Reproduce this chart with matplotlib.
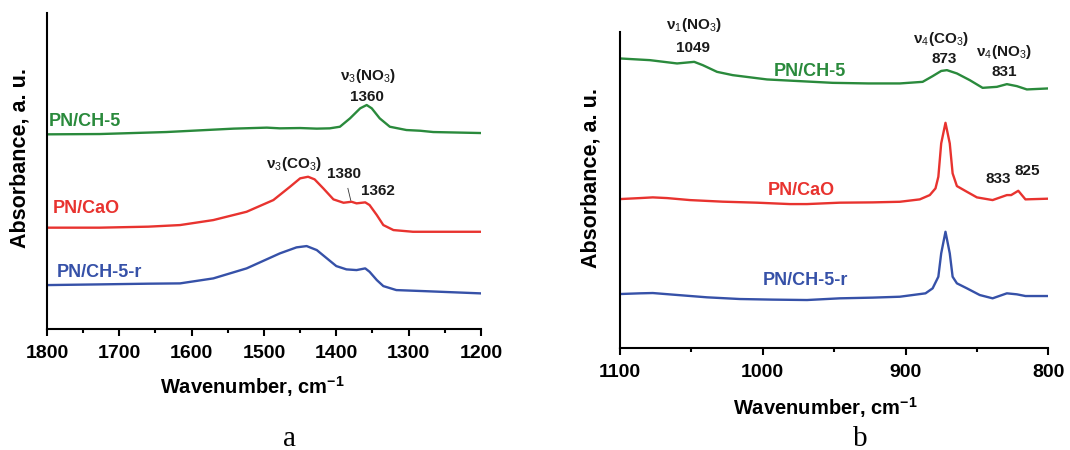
import matplotlib
matplotlib.use("Agg")
import matplotlib.pyplot as plt
from matplotlib.ticker import MultipleLocator

plt.rcParams['font.family'] = ['Liberation Sans', 'DejaVu Sans']
plt.rcParams['mathtext.fontset'] = 'custom'
plt.rcParams['mathtext.rm'] = 'Liberation Sans'
plt.rcParams['mathtext.bf'] = 'Liberation Sans:bold'

GREEN = '#2a8a3c'
RED = '#e8332f'
BLUE = '#3651a8'

# ---- panel a : 1800-1200 cm-1 (absorbance in a.u., offset traces)
wn_a_ch5 = [1800, 1727, 1635, 1542, 1496, 1478, 1450, 1427, 1409, 1395, 1381, 1367,
            1358, 1351, 1340, 1326, 1303, 1284, 1266, 1200]
ab_a_ch5 = [195.0, 195.3, 197.3, 200.7, 201.7, 201.0, 201.3, 200.7, 201.0, 202.6, 211.0,
            221.0, 224.3, 221.0, 211.0, 202.6, 199.3, 198.6, 197.3, 196.3]

wn_a_cao = [1800, 1727, 1660, 1616, 1570, 1524, 1487, 1464, 1450, 1439, 1430, 1418,
            1404, 1390, 1379, 1372, 1360, 1354, 1344, 1335, 1321, 1294, 1250, 1200]
ab_a_cao = [101.7, 101.7, 102.7, 104.3, 109.3, 117.6, 129.3, 142.6, 151.0, 152.6, 150.0,
            141.0, 130.0, 126.6, 127.6, 126.0, 127.0, 124.3, 114.3, 104.3, 99.3, 97.6,
            97.6, 97.6]

wn_a_ch5r = [1800, 1727, 1660, 1616, 1570, 1524, 1478, 1455, 1441, 1427, 1413, 1400,
             1386, 1372, 1360, 1354, 1344, 1335, 1317, 1280, 1200]
ab_a_ch5r = [44.3, 45.0, 45.7, 46.0, 51.0, 61.0, 76.0, 82.0, 83.3, 79.3, 71.0, 63.3,
             60.0, 59.3, 61.0, 57.6, 49.3, 43.3, 39.3, 38.3, 36.0]

# ---- panel b : 1100-800 cm-1
wn_b_ch5 = [1100, 1079, 1060, 1048, 1042, 1032, 1021, 997, 970, 951, 926, 904, 888,
            881, 875, 871, 864, 855, 846, 836, 829, 822, 815, 800]
ab_b_ch5 = [290.0, 288.3, 285.0, 286.6, 283.3, 276.6, 273.3, 269.0, 267.0, 265.6, 265.0,
            265.0, 266.6, 272.3, 277.5, 278.3, 275.0, 268.3, 260.6, 261.6, 264.3, 262.3,
            259.0, 260.0]

wn_b_cao = [1100, 1086, 1077, 1067, 1051, 1028, 1004, 981, 969, 946, 923, 904, 890,
            883, 879, 877, 875, 872, 869, 867, 864, 857, 850, 839, 829, 826, 821, 816,
            800]
ab_b_cao = [149.3, 150.3, 151.0, 150.3, 148.3, 146.7, 145.7, 144.3, 144.3, 145.7, 146.0,
            146.6, 149.0, 153.3, 160.0, 171.6, 205.0, 225.6, 205.0, 175.0, 162.3, 156.6,
            151.0, 148.3, 153.3, 153.3, 157.6, 149.0, 149.7]

wn_b_ch5r = [1100, 1086, 1077, 1063, 1039, 1016, 993, 969, 946, 923, 904, 886, 881,
             877, 875, 872, 869, 867, 864, 857, 848, 839, 829, 822, 816, 800]
ab_b_ch5r = [54.3, 55.0, 55.3, 53.7, 51.0, 49.3, 48.7, 48.3, 50.0, 50.7, 51.6, 55.0,
             60.0, 71.6, 95.0, 116.6, 95.0, 71.6, 65.0, 60.0, 53.3, 50.0, 55.0, 54.0,
             52.3, 52.3]

series_a = [(wn_a_ch5, ab_a_ch5, GREEN), (wn_a_cao, ab_a_cao, RED), (wn_a_ch5r, ab_a_ch5r, BLUE)]
series_b = [(wn_b_ch5, ab_b_ch5, GREEN), (wn_b_cao, ab_b_cao, RED), (wn_b_ch5r, ab_b_ch5r, BLUE)]

fig = plt.figure(figsize=(10.7, 4.5), dpi=100)
ax1 = fig.add_axes([0.0439, 0.268, 0.4056, 0.704])
ax2 = fig.add_axes([0.5794, 0.226, 0.4003, 0.7034])


def style_axis(ax, lo, hi, xlab_xy, ylab_xy):
    ax.set_xlim(lo, hi)
    ax.set_ylim(0, 316.7)
    for s in ['top', 'right']:
        ax.spines[s].set_visible(False)
    for s in ['left', 'bottom']:
        ax.spines[s].set_linewidth(1.5)
    ax.xaxis.set_major_locator(MultipleLocator(100))
    ax.xaxis.set_minor_locator(MultipleLocator(50))
    ax.tick_params(axis='x', which='major', direction='out', length=5, width=1.5,
                   labelsize=14, pad=6)
    ax.tick_params(axis='x', which='minor', direction='out', length=3, width=1.5)
    ax.set_yticks([])
    for lab in ax.get_xticklabels():
        lab.set_fontweight('bold')
    ax.set_xlabel('Wavenumber, cm$^{\\mathbf{-1}}$', fontsize=14.5, fontweight='bold')
    ax.set_ylabel('Absorbance, a. u.', fontsize=15.5, fontweight='bold')
    ax.xaxis.set_label_coords(*xlab_xy)
    ax.yaxis.set_label_coords(*ylab_xy)


for wn, ab, c in series_a:
    ax1.plot(wn, ab, color=c, lw=1.7, solid_joinstyle='round')
for wn, ab, c in series_b:
    ax2.plot(wn, ab, color=c, lw=1.7, solid_joinstyle='round')

style_axis(ax1, 1800, 1200, (0.472, -0.141), (-0.039, 0.541))
style_axis(ax2, 1100, 800, (0.479, -0.147), (-0.042, 0.539))

# curve names
lbl = dict(fontsize=13, fontweight='bold')
ax1.text(1798, 208, 'PN/CH-5', color=GREEN, ha='left', va='center', **lbl)
ax1.text(1792, 121, 'PN/CaO', color=RED, ha='left', va='center', **lbl)
ax1.text(1786, 57, 'PN/CH-5-r', color=BLUE, ha='left', va='center', **lbl)
ax2.text(967, 277, 'PN/CH-5', color=GREEN, ha='center', va='center', **lbl)
ax2.text(973, 158, 'PN/CaO', color=RED, ha='center', va='center', **lbl)
ax2.text(970, 68, 'PN/CH-5-r', color=BLUE, ha='center', va='center', **lbl)

# band assignments
ann = dict(fontsize=11, fontweight='bold', ha='center', va='center', color='#1a1a1a')
ax1.text(1356, 253, 'ν$_{3}$(NO$_{3}$)', **ann)
ax1.text(1358, 232, '1360', **ann)
ax1.text(1459, 165, 'ν$_{3}$(CO$_{3}$)', **ann)
ax1.text(1390, 155, '1380', **ann)
ax1.text(1343, 138, '1362', **ann)
ax1.plot([1384, 1380], [141, 129], color='#333333', lw=0.6)

ax2.text(1048, 323, 'ν$_{1}$(NO$_{3}$)', **ann)
ax2.text(1049, 300, '1049', **ann)
ax2.text(875, 309, 'ν$_{4}$(CO$_{3}$)', **ann)
ax2.text(873, 289, '873', **ann)
ax2.text(831, 296, 'ν$_{4}$(NO$_{3}$)', **ann)
ax2.text(831, 276, '831', **ann)
ax2.text(835, 169, '833', **ann)
ax2.text(815, 177, '825', **ann)

fig.text(0.271, 0.025, 'a', fontsize=21, family='Liberation Serif', ha='center', va='center')
fig.text(0.804, 0.025, 'b', fontsize=21, family='Liberation Serif', ha='center', va='center')

fig.savefig('out.png', dpi=100)
